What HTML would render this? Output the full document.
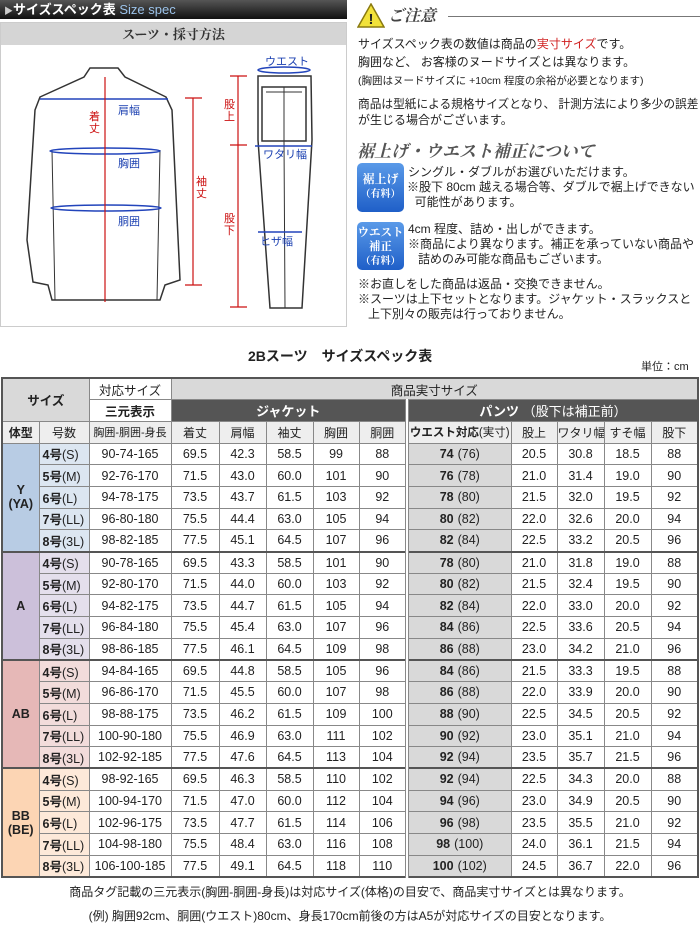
<!DOCTYPE html>
<html><head><meta charset="utf-8">
<style>
*{margin:0;padding:0;box-sizing:border-box}
body{width:700px;height:930px;background:#fff;font-family:"Liberation Sans","Noto Sans CJK JP",sans-serif;color:#222;position:relative;overflow:hidden}
.abs{position:absolute;white-space:nowrap}
.t13{font-size:12px}
.badge{position:absolute;left:357px;width:47px;border-radius:5px;background:linear-gradient(#5a9ae8,#1f5fc8);color:#fff;font-family:"Noto Serif CJK SC",serif;font-weight:bold;text-align:center;font-size:12px;line-height:14px;padding-top:4px}
table{position:absolute;left:1px;top:377px;border-collapse:collapse;width:698px;table-layout:fixed;border:2px solid #555;font-size:12.5px}
td{border:1px solid #888;text-align:center;height:21.7px;padding:0;white-space:nowrap;overflow:hidden}
.g{background:#d9d9d9}
.d{background:#555;color:#fff;font-weight:bold;font-size:13px}
.h3{background:#eee;font-size:12px}
.w{background:#d9d9d9}
.w b{margin-right:4px}
.sep{border-left:4px double #888}
.Y{background:#b8cce4}.Y2{background:#dce6f1}
.A{background:#ccc0da}.A2{background:#e4dfec}
.AB{background:#e6b8b7}.AB2{background:#f2dcdb}
.BB{background:#fcd5b4}.BB2{background:#fde9d9}
.bt{font-weight:bold}
.n{text-align:left;padding-left:3px}
</style></head><body>
<div class="abs" style="left:0;top:0;width:347px;height:19px;background:linear-gradient(#555,#111);color:#fff;font-size:13px;line-height:19px;padding-left:4px"><span style="font-size:9px;color:#ccc">▶</span><b>サイズスペック表</b> <span style="color:#9cc3ea">Size spec</span></div>
<div class="abs" style="left:0;top:22px;width:347px;height:305px;border:1px solid #ccc;background:#fff"></div>
<div class="abs" style="left:1px;top:23px;width:345px;height:22px;background:#d5d5d5;text-align:center;font-family:'Noto Serif CJK SC',serif;font-weight:bold;font-size:13px;line-height:22px;color:#333">スーツ・採寸方法</div>
<svg class="abs" style="left:0;top:0" width="347" height="330">
<g fill="#fff" stroke="#333" stroke-width="1.5">
<path d="M90 68 L118 68 L125 77 L166 97 L172 110 L180 280 L165 285 L160 300 L52 300 L48 285 L33 282 L27 240 L35 110 L40 97 L84 77 Z"/>
<path d="M258 76 L311 76 L312 140 L302 308 L270 308 L258 140 Z"/>
<path d="M262 87 L306 87 L306 141 L262 141 Z"/>
</g>
<g stroke="#333" fill="none" stroke-width="1">
<path d="M52 150 L55 300 M160 150 L157 300 M284 141 L285 308 M284 87 L284 141 M266 92 L302 92"/>
</g>
<g stroke="#2244bb" stroke-width="1.5" fill="none">
<line x1="40" y1="99" x2="168" y2="99"/>
<ellipse cx="105" cy="151" rx="55" ry="3"/>
<ellipse cx="106" cy="208" rx="55" ry="3"/>
<ellipse cx="284" cy="70" rx="26" ry="3"/>
<line x1="255" y1="146" x2="312" y2="146"/>
<line x1="258" y1="232" x2="302" y2="232"/>
</g>
<g stroke="#cc1111" stroke-width="1.2">
<line x1="105" y1="77" x2="105" y2="302"/>
<line x1="193" y1="98" x2="193" y2="285"/><line x1="185" y1="98" x2="202" y2="98"/><line x1="185" y1="285" x2="202" y2="285"/>
<line x1="238" y1="76" x2="238" y2="307"/><line x1="230" y1="76" x2="247" y2="76"/><line x1="230" y1="145" x2="247" y2="145"/><line x1="230" y1="307" x2="247" y2="307"/>
</g>
<g font-size="11" fill="#1a3fb0" font-family="'Noto Sans CJK JP',sans-serif">
<text x="118" y="114">肩幅</text><text x="118" y="167">胸囲</text><text x="118" y="225">胴囲</text>
<text x="265" y="65">ウエスト</text><text x="263" y="158">ワタリ幅</text><text x="260" y="245">ヒザ幅</text>
</g>
<g font-size="11" fill="#cc1111" font-family="'Noto Sans CJK JP',sans-serif">
<text x="89" y="120">着</text><text x="89" y="132">丈</text>
<text x="196" y="185">袖</text><text x="196" y="197">丈</text>
<text x="224" y="108">股</text><text x="224" y="120">上</text>
<text x="224" y="222">股</text><text x="224" y="234">下</text>
</g>
</svg>
<svg class="abs" style="left:357px;top:3px" width="28" height="25"><polygon points="14,1 27,24 1,24" fill="#f2e23a" stroke="#8a7a10" stroke-width="1.5"/><text x="11.5" y="21" font-size="15" font-weight="bold" fill="#222" font-family="Liberation Sans">!</text></svg>
<div class="abs" style="left:388px;top:3px;font-family:'Noto Serif CJK SC',serif;font-style:italic;font-weight:bold;font-size:16px;color:#444">ご注意</div>
<div class="abs" style="left:448px;top:16px;width:252px;height:1px;background:#777"></div>
<div class="abs t13" style="left:358px;top:35px">サイズスペック表の数値は商品の<span style="color:#d02020">実寸サイズ</span>です。</div>
<div class="abs t13" style="left:358px;top:53px">胸囲など、 お客様のヌードサイズとは異なります。</div>
<div class="abs" style="left:358px;top:73px;font-size:10.5px">(胸囲はヌードサイズに +10cm 程度の余裕が必要となります)</div>
<div class="abs t13" style="left:358px;top:95px;font-size:11.7px">商品は型紙による規格サイズとなり、 計測方法により多少の誤差</div>
<div class="abs t13" style="left:358px;top:111px">が生じる場合がございます。</div>
<div class="abs" style="left:357px;top:137px;font-family:'Noto Serif CJK SC',serif;font-style:italic;font-weight:bold;font-size:17px;color:#555">裾上げ・ウエスト補正について</div>
<div class="badge" style="top:163px;height:49px;padding-top:9px">裾上げ<br><span style="font-size:10px">（有料）</span></div>
<div class="badge" style="top:222px;height:48px;padding-top:3px;font-size:11.5px;line-height:14px">ウエスト<br>補正<br><span style="font-size:10px">（有料）</span></div>
<div class="abs" style="left:408px;top:165px;font-size:12px;line-height:15px">シングル・ダブルがお選びいただけます。<br><span style="margin-left:-1px">※股下 80cm 越える場合等、ダブルで裾上げできない</span><br>&nbsp;&nbsp;可能性があります。</div>
<div class="abs" style="left:408px;top:222px;font-size:12px;line-height:15px">4cm 程度、詰め・出しができます。<br>※商品により異なります。補正を承っていない商品や<br>&nbsp;&nbsp;&nbsp;詰めのみ可能な商品もございます。</div>
<div class="abs" style="left:358px;top:277px;font-size:12px;line-height:15px">※お直しをした商品は返品・交換できません。<br>※スーツは上下セットとなります。ジャケット・スラックスと<br>&nbsp;&nbsp;&nbsp;上下別々の販売は行っておりません。</div>
<div class="abs" style="left:248px;top:346px;font-size:14px;font-weight:bold">2Bスーツ　サイズスペック表</div>
<div class="abs" style="left:641px;top:358px;font-size:11px">単位：cm</div>
<table>
<colgroup><col style="width:37px"><col style="width:50px"><col style="width:82px"><col style="width:48px"><col style="width:47px"><col style="width:47px"><col style="width:46px"><col style="width:48px"><col style="width:104px"><col style="width:46px"><col style="width:47px"><col style="width:47px"><col></colgroup>
<tr><td class="g bt" colspan="2" rowspan="2" style="height:40px">サイズ</td><td style="height:20px">対応サイズ</td><td class="g" colspan="10">商品実寸サイズ</td></tr>
<tr><td class="bt" style="height:20px">三元表示</td><td class="d" colspan="5">ジャケット</td><td class="d sep" colspan="5">パンツ <span style="font-weight:normal">（股下は補正前）</span></td></tr>
<tr class="h3"><td class="bt">体型</td><td>号数</td><td style="font-size:11px">胸囲-胴囲-身長</td><td>着丈</td><td>肩幅</td><td>袖丈</td><td>胸囲</td><td>胴囲</td><td class="sep bt" style="font-size:11.5px">ウエスト対応<span style="font-weight:normal">(実寸)</span></td><td>股上</td><td>ワタリ幅</td><td>すそ幅</td><td>股下</td></tr>
<tr><td class="Y bt" rowspan="5">Y<br>(YA)</td><td class="Y2 n"><b>4号</b>(S)</td><td>90-74-165</td><td>69.5</td><td>42.3</td><td>58.5</td><td>99</td><td>88</td><td class="w sep"><b>74</b>(76)</td><td>20.5</td><td>30.8</td><td>18.5</td><td>88</td></tr>
<tr><td class="Y2 n"><b>5号</b>(M)</td><td>92-76-170</td><td>71.5</td><td>43.0</td><td>60.0</td><td>101</td><td>90</td><td class="w sep"><b>76</b>(78)</td><td>21.0</td><td>31.4</td><td>19.0</td><td>90</td></tr>
<tr><td class="Y2 n"><b>6号</b>(L)</td><td>94-78-175</td><td>73.5</td><td>43.7</td><td>61.5</td><td>103</td><td>92</td><td class="w sep"><b>78</b>(80)</td><td>21.5</td><td>32.0</td><td>19.5</td><td>92</td></tr>
<tr><td class="Y2 n"><b>7号</b>(LL)</td><td>96-80-180</td><td>75.5</td><td>44.4</td><td>63.0</td><td>105</td><td>94</td><td class="w sep"><b>80</b>(82)</td><td>22.0</td><td>32.6</td><td>20.0</td><td>94</td></tr>
<tr><td class="Y2 n"><b>8号</b>(3L)</td><td>98-82-185</td><td>77.5</td><td>45.1</td><td>64.5</td><td>107</td><td>96</td><td class="w sep"><b>82</b>(84)</td><td>22.5</td><td>33.2</td><td>20.5</td><td>96</td></tr>
<tr style="border-top:2px solid #555"><td class="A bt" rowspan="5">A</td><td class="A2 n"><b>4号</b>(S)</td><td>90-78-165</td><td>69.5</td><td>43.3</td><td>58.5</td><td>101</td><td>90</td><td class="w sep"><b>78</b>(80)</td><td>21.0</td><td>31.8</td><td>19.0</td><td>88</td></tr>
<tr><td class="A2 n"><b>5号</b>(M)</td><td>92-80-170</td><td>71.5</td><td>44.0</td><td>60.0</td><td>103</td><td>92</td><td class="w sep"><b>80</b>(82)</td><td>21.5</td><td>32.4</td><td>19.5</td><td>90</td></tr>
<tr><td class="A2 n"><b>6号</b>(L)</td><td>94-82-175</td><td>73.5</td><td>44.7</td><td>61.5</td><td>105</td><td>94</td><td class="w sep"><b>82</b>(84)</td><td>22.0</td><td>33.0</td><td>20.0</td><td>92</td></tr>
<tr><td class="A2 n"><b>7号</b>(LL)</td><td>96-84-180</td><td>75.5</td><td>45.4</td><td>63.0</td><td>107</td><td>96</td><td class="w sep"><b>84</b>(86)</td><td>22.5</td><td>33.6</td><td>20.5</td><td>94</td></tr>
<tr><td class="A2 n"><b>8号</b>(3L)</td><td>98-86-185</td><td>77.5</td><td>46.1</td><td>64.5</td><td>109</td><td>98</td><td class="w sep"><b>86</b>(88)</td><td>23.0</td><td>34.2</td><td>21.0</td><td>96</td></tr>
<tr style="border-top:2px solid #555"><td class="AB bt" rowspan="5">AB</td><td class="AB2 n"><b>4号</b>(S)</td><td>94-84-165</td><td>69.5</td><td>44.8</td><td>58.5</td><td>105</td><td>96</td><td class="w sep"><b>84</b>(86)</td><td>21.5</td><td>33.3</td><td>19.5</td><td>88</td></tr>
<tr><td class="AB2 n"><b>5号</b>(M)</td><td>96-86-170</td><td>71.5</td><td>45.5</td><td>60.0</td><td>107</td><td>98</td><td class="w sep"><b>86</b>(88)</td><td>22.0</td><td>33.9</td><td>20.0</td><td>90</td></tr>
<tr><td class="AB2 n"><b>6号</b>(L)</td><td>98-88-175</td><td>73.5</td><td>46.2</td><td>61.5</td><td>109</td><td>100</td><td class="w sep"><b>88</b>(90)</td><td>22.5</td><td>34.5</td><td>20.5</td><td>92</td></tr>
<tr><td class="AB2 n"><b>7号</b>(LL)</td><td>100-90-180</td><td>75.5</td><td>46.9</td><td>63.0</td><td>111</td><td>102</td><td class="w sep"><b>90</b>(92)</td><td>23.0</td><td>35.1</td><td>21.0</td><td>94</td></tr>
<tr><td class="AB2 n"><b>8号</b>(3L)</td><td>102-92-185</td><td>77.5</td><td>47.6</td><td>64.5</td><td>113</td><td>104</td><td class="w sep"><b>92</b>(94)</td><td>23.5</td><td>35.7</td><td>21.5</td><td>96</td></tr>
<tr style="border-top:2px solid #555"><td class="BB bt" rowspan="5">BB<br>(BE)</td><td class="BB2 n"><b>4号</b>(S)</td><td>98-92-165</td><td>69.5</td><td>46.3</td><td>58.5</td><td>110</td><td>102</td><td class="w sep"><b>92</b>(94)</td><td>22.5</td><td>34.3</td><td>20.0</td><td>88</td></tr>
<tr><td class="BB2 n"><b>5号</b>(M)</td><td>100-94-170</td><td>71.5</td><td>47.0</td><td>60.0</td><td>112</td><td>104</td><td class="w sep"><b>94</b>(96)</td><td>23.0</td><td>34.9</td><td>20.5</td><td>90</td></tr>
<tr><td class="BB2 n"><b>6号</b>(L)</td><td>102-96-175</td><td>73.5</td><td>47.7</td><td>61.5</td><td>114</td><td>106</td><td class="w sep"><b>96</b>(98)</td><td>23.5</td><td>35.5</td><td>21.0</td><td>92</td></tr>
<tr><td class="BB2 n"><b>7号</b>(LL)</td><td>104-98-180</td><td>75.5</td><td>48.4</td><td>63.0</td><td>116</td><td>108</td><td class="w sep"><b>98</b>(100)</td><td>24.0</td><td>36.1</td><td>21.5</td><td>94</td></tr>
<tr><td class="BB2 n"><b>8号</b>(3L)</td><td>106-100-185</td><td>77.5</td><td>49.1</td><td>64.5</td><td>118</td><td>110</td><td class="w sep"><b>100</b>(102)</td><td>24.5</td><td>36.7</td><td>22.0</td><td>96</td></tr>
</table>
<div class="abs" style="left:0;width:700px;top:883px;text-align:center;font-size:12px">商品タグ記載の三元表示(胸囲-胴囲-身長)は対応サイズ(体格)の目安で、商品実寸サイズとは異なります。</div>
<div class="abs" style="left:0;width:700px;top:907px;text-align:center;font-size:12px">(例) 胸囲92cm、胴囲(ウエスト)80cm、身長170cm前後の方はA5が対応サイズの目安となります。</div>
</body></html>
